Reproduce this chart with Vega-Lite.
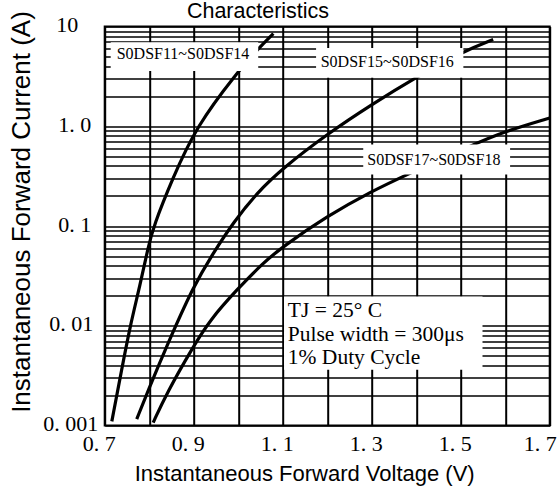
{
  "$schema": "https://vega.github.io/schema/vega-lite/v6.json",
  "width": 445,
  "height": 399,
  "autosize": "none",
  "padding": {"left": 104.7, "top": 26.5, "right": 8.3, "bottom": 60.5},
  "background": "white",
  "config": {
    "view": {"stroke": "black", "strokeWidth": 2}
  },
  "datasets": {
    "curves": [
      {"series": "S0DSF11~S0DSF14", "v": 0.716, "i": 0.0011},
      {"series": "S0DSF11~S0DSF14", "v": 0.738, "i": 0.0036},
      {"series": "S0DSF11~S0DSF14", "v": 0.757, "i": 0.0099},
      {"series": "S0DSF11~S0DSF14", "v": 0.779, "i": 0.025},
      {"series": "S0DSF11~S0DSF14", "v": 0.798, "i": 0.0625},
      {"series": "S0DSF11~S0DSF14", "v": 0.81, "i": 0.1},
      {"series": "S0DSF11~S0DSF14", "v": 0.851, "i": 0.29},
      {"series": "S0DSF11~S0DSF14", "v": 0.906, "i": 1.0},
      {"series": "S0DSF11~S0DSF14", "v": 0.997, "i": 3.43},
      {"series": "S0DSF11~S0DSF14", "v": 1.045, "i": 6.0},
      {"series": "S0DSF11~S0DSF14", "v": 1.079, "i": 8.5},
      {"series": "S0DSF15~S0DSF16", "v": 0.772, "i": 0.00116},
      {"series": "S0DSF15~S0DSF16", "v": 0.798, "i": 0.00226},
      {"series": "S0DSF15~S0DSF16", "v": 0.839, "i": 0.0062},
      {"series": "S0DSF15~S0DSF16", "v": 0.899, "i": 0.0248},
      {"series": "S0DSF15~S0DSF16", "v": 0.944, "i": 0.0537},
      {"series": "S0DSF15~S0DSF16", "v": 0.99, "i": 0.11},
      {"series": "S0DSF15~S0DSF16", "v": 1.042, "i": 0.215},
      {"series": "S0DSF15~S0DSF16", "v": 1.1, "i": 0.38},
      {"series": "S0DSF15~S0DSF16", "v": 1.2025, "i": 0.85},
      {"series": "S0DSF15~S0DSF16", "v": 1.3, "i": 1.65},
      {"series": "S0DSF15~S0DSF16", "v": 1.397, "i": 3.05},
      {"series": "S0DSF15~S0DSF16", "v": 1.506, "i": 5.65},
      {"series": "S0DSF15~S0DSF16", "v": 1.573, "i": 7.4},
      {"series": "S0DSF17~S0DSF18", "v": 0.809, "i": 0.00107},
      {"series": "S0DSF17~S0DSF18", "v": 0.839, "i": 0.0021},
      {"series": "S0DSF17~S0DSF18", "v": 0.899, "i": 0.0062},
      {"series": "S0DSF17~S0DSF18", "v": 0.937, "i": 0.0115},
      {"series": "S0DSF17~S0DSF18", "v": 0.997, "i": 0.023},
      {"series": "S0DSF17~S0DSF18", "v": 1.056, "i": 0.0427},
      {"series": "S0DSF17~S0DSF18", "v": 1.1, "i": 0.062},
      {"series": "S0DSF17~S0DSF18", "v": 1.199, "i": 0.125},
      {"series": "S0DSF17~S0DSF18", "v": 1.3, "i": 0.223},
      {"series": "S0DSF17~S0DSF18", "v": 1.379, "i": 0.328},
      {"series": "S0DSF17~S0DSF18", "v": 1.528, "i": 0.655},
      {"series": "S0DSF17~S0DSF18", "v": 1.6, "i": 0.89},
      {"series": "S0DSF17~S0DSF18", "v": 1.7, "i": 1.21}
    ],
    "boxes": [
      {"box": "a", "v1": 0.7135, "v2": 1.045, "i1": 3.57, "i2": 6.97},
      {"box": "b", "v1": 1.175, "v2": 1.506, "i1": 3.06, "i2": 6.1},
      {"box": "c", "v1": 1.281, "v2": 1.611, "i1": 0.328, "i2": 0.655},
      {"box": "d", "v1": 1.103, "v2": 1.549, "i1": 0.00363, "i2": 0.0197}
    ],
    "names": [
      {"text": "S0DSF11~S0DSF14", "v": 0.727, "i": 5.24},
      {"text": "S0DSF15~S0DSF16", "v": 1.1854, "i": 4.38},
      {"text": "S0DSF17~S0DSF18", "v": 1.29, "i": 0.4634}
    ],
    "notes": [
      {"text": "TJ = 25° C", "v": 1.1115, "i": 0.01416},
      {"text": "Pulse width = 300μs", "v": 1.1115, "i": 0.00815},
      {"text": "1% Duty Cycle", "v": 1.1115, "i": 0.00474}
    ],
    "heading": [
      {"text": "Characteristics", "v": 1.0445, "i": 12.17}
    ]
  },
  "layer": [
    {
      "data": {"name": "curves"},
      "mark": {"type": "line", "interpolate": "basis", "strokeWidth": 3.2, "color": "black"},
      "encoding": {
        "x": {
          "field": "v", "type": "quantitative",
          "scale": {"domain": [0.7, 1.7], "nice": false, "zero": false},
          "axis": {
            "values": [0.7, 0.8, 0.9, 1.0, 1.1, 1.2, 1.3, 1.4, 1.5, 1.6, 1.7],
            "grid": true, "gridColor": "black", "gridWidth": 2, "gridOpacity": 1,
            "ticks": false, "domain": false,
            "labelExpr": "round(datum.value*10) % 2 == 1 ? replace(format(datum.value, '.1f'), '.', '. ') : ''",
            "labelFont": "Liberation Serif", "labelFontSize": 22, "labelColor": "black",
            "labelPadding": 8, "labelFlush": false, "labelOverlap": false,
            "labelOffset": {"condition": {"test": "datum.value > 1.65", "value": -10}, "value": -6},
            "title": "Instantaneous Forward Voltage (V)",
            "titleFont": "Liberation Sans", "titleFontSize": 22, "titleFontWeight": "normal", "titleColor": "black",
            "titleX": 199.5, "titleY": 54.5, "titleBaseline": "alphabetic", "titleAlign": "center"
          }
        },
        "y": {
          "field": "i", "type": "quantitative",
          "scale": {"type": "log", "domain": [0.001, 10], "nice": false},
          "axis": {
            "values": [0.001, 0.002, 0.003, 0.004, 0.005, 0.006, 0.007, 0.008, 0.009,
                       0.01, 0.02, 0.03, 0.04, 0.05, 0.06, 0.07, 0.08, 0.09,
                       0.1, 0.2, 0.3, 0.4, 0.5, 0.6, 0.7, 0.8, 0.9,
                       1, 2, 3, 4, 5, 6, 7, 8, 9, 10],
            "grid": true, "gridColor": "black", "gridWidth": 1.5, "gridOpacity": 1,
            "ticks": false, "domain": false,
            "labelExpr": "datum.value == 10 ? '10' : datum.value == 1 ? '1. 0' : datum.value == 0.1 ? '0. 1' : datum.value == 0.01 ? '0. 01' : datum.value == 0.001 ? '0. 001' : ''",
            "labelFont": "Liberation Serif", "labelFontSize": 22, "labelColor": "black",
            "labelPadding": {"condition": [
              {"test": "datum.value == 10", "value": 27},
              {"test": "datum.value == 1 || datum.value == 0.1", "value": 14},
              {"test": "datum.value == 0.01", "value": 12}
            ], "value": 7},
            "labelOffset": -2, "labelBaseline": "middle", "labelOverlap": false,
            "title": "Instantaneous Forward Current (A)",
            "titleFont": "Liberation Sans", "titleFontSize": 26, "titleFontWeight": "normal", "titleColor": "black",
            "titleX": -75, "titleY": 185, "titleAngle": 270, "titleBaseline": "alphabetic", "titleAlign": "center"
          }
        },
        "detail": {"field": "series", "type": "nominal"}
      }
    },
    {
      "data": {"name": "boxes"},
      "mark": {"type": "rect", "fill": "white", "strokeWidth": 0},
      "encoding": {
        "x": {"field": "v1", "type": "quantitative"},
        "x2": {"field": "v2"},
        "y": {"field": "i1", "type": "quantitative"},
        "y2": {"field": "i2"}
      }
    },
    {
      "data": {"name": "names"},
      "mark": {"type": "text", "align": "left", "baseline": "middle", "font": "Liberation Serif", "fontSize": 16, "color": "black"},
      "encoding": {
        "x": {"field": "v", "type": "quantitative"},
        "y": {"field": "i", "type": "quantitative"},
        "text": {"field": "text"}
      }
    },
    {
      "data": {"name": "notes"},
      "mark": {"type": "text", "align": "left", "baseline": "middle", "font": "Liberation Serif", "fontSize": 21.5, "color": "black"},
      "encoding": {
        "x": {"field": "v", "type": "quantitative"},
        "y": {"field": "i", "type": "quantitative"},
        "text": {"field": "text"}
      }
    },
    {
      "data": {"name": "heading"},
      "mark": {"type": "text", "align": "center", "baseline": "alphabetic", "font": "Liberation Sans", "fontSize": 21.5, "color": "black", "clip": false},
      "encoding": {
        "x": {"field": "v", "type": "quantitative"},
        "y": {"field": "i", "type": "quantitative"},
        "text": {"field": "text"}
      }
    }
  ]
}
